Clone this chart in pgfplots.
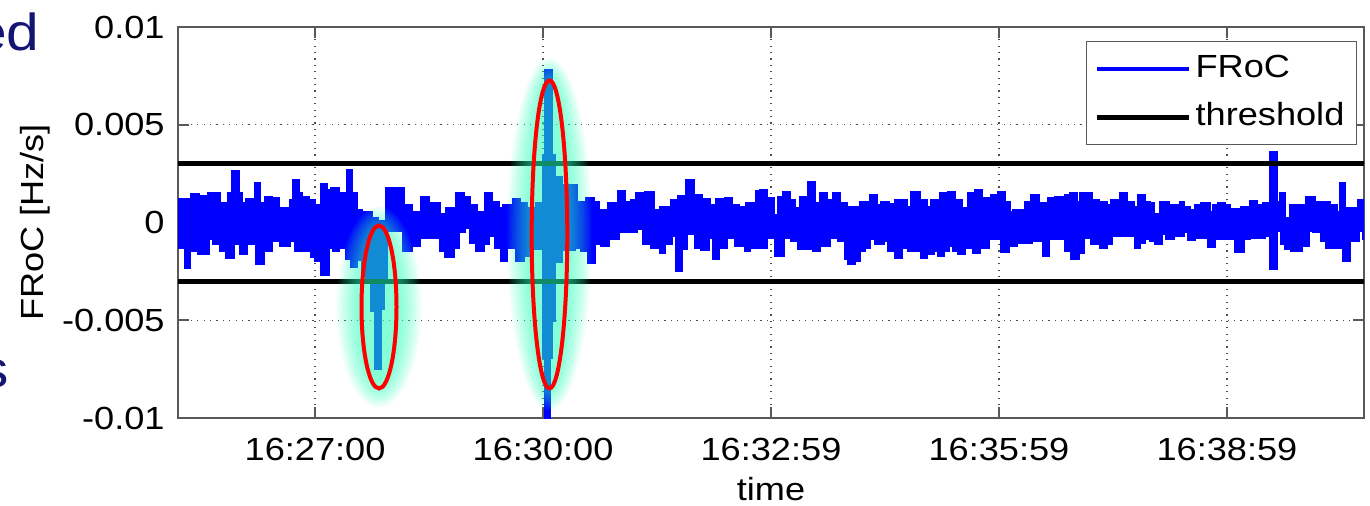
\documentclass[border=0pt]{standalone}
\usepackage{fontspec}
\setmainfont{Liberation Sans}[FakeStretch=1.13]
\usepackage{pgfplots}
\usepgfplotslibrary{fillbetween}
\pgfplotsset{compat=1.18}
\usepackage{pgfplotstable}
\definecolor{froc}{rgb}{0,0,1}
\definecolor{glowc}{rgb}{0.15,1,0.72}
\definecolor{slidetext}{rgb}{0.08,0.08,0.45}
\definecolor{axgray}{gray}{0.35}

\pgfplotstableread{
t v
-108.2 1.16e-3
-97.3 1.43e-3
-92.1 1.33e-3
-86.8 0.96e-3
-84.2 1.50e-3
-75.0 0.96e-3
-68.5 1.47e-3
-65.3 2.61e-3
-60.6 1.47e-3
-57.9 0.96e-3
-53.9 1.16e-3
-48.7 0.87e-3
-47.4 1.98e-3
-43.4 0.96e-3
-38.9 1.30e-3
-34.2 1.21e-3
-29.0 0.70e-3
-19.7 1.13e-3
-17.1 2.15e-3
-12.6 1.47e-3
-10.5 1.30e-3
-5.3 1.13e-3
0 0.87e-3
5.3 1.93e-3
9.2 1.64e-3
13.2 1.72e-3
18.4 1.13e-3
21.1 1.47e-3
25.8 2.66e-3
29.0 1.47e-3
32.9 0.61e-3
36.9 0.53e-3
45.0 0.20e-3
49.7 0.05e-3
56.6 1.72e-3
69.7 0.87e-3
76.3 0.53e-3
84.2 1.30e-3
89.5 0.96e-3
98.7 0.44e-3
104.0 0.70e-3
111.9 1.50e-3
117.1 1.30e-3
122.4 0.87e-3
127.7 0.53e-3
134.2 1.50e-3
139.5 1.04e-3
144.7 0.70e-3
148.7 0.87e-3
156.6 1.16e-3
161.8 0.96e-3
167.1 0.70e-3
175.0 0.96e-3
180.0 3.43e-3
181.6 7.77e-3
186.9 3.43e-3
189.5 2.32e-3
194.8 1.89e-3
206.6 1.04e-3
214.5 1.21e-3
219.7 1.04e-3
223.7 0.61e-3
231.6 0.99e-3
239.5 1.60e-3
244.7 1.04e-3
250.0 1.13e-3
253.9 1.47e-3
260.5 1.55e-3
267.1 0.61e-3
272.4 0.78e-3
281.6 1.13e-3
286.8 1.33e-3
293.4 2.15e-3
298.7 1.38e-3
305.3 1.16e-3
311.8 0.87e-3
317.1 1.16e-3
323.7 1.21e-3
329.0 0.87e-3
334.2 0.78e-3
340.8 0.96e-3
348.7 1.60e-3
351.3 1.64e-3
356.6 1.21e-3
361.8 0.36e-3
365.8 1.30e-3
369.7 1.55e-3
375.0 1.13e-3
378.9 0.70e-3
382.9 1.30e-3
389.5 2.03e-3
394.7 0.96e-3
398.7 1.47e-3
404.0 1.13e-3
409.2 1.47e-3
414.5 0.99e-3
419.8 0.78e-3
430.3 1.04e-3
438.2 1.38e-3
443.4 0.87e-3
447.4 1.04e-3
452.6 0.92e-3
457.9 1.13e-3
467.1 0.78e-3
471.1 1.55e-3
477.6 1.13e-3
482.9 0.78e-3
486.9 1.13e-3
493.4 1.47e-3
500.0 1.55e-3
505.3 1.13e-3
510.5 0.70e-3
515.8 1.47e-3
521.1 1.64e-3
526.3 1.21e-3
531.6 0.87e-3
534.2 1.38e-3
539.5 1.55e-3
544.7 1.04e-3
548.7 0.53e-3
551.3 0.61e-3
560.5 1.04e-3
565.8 1.38e-3
571.0 0.96e-3
578.9 1.21e-3
584.2 1.30e-3
592.1 1.38e-3
596.1 1.47e-3
601.3 1.04e-3
604.0 1.47e-3
613.2 1.13e-3
618.4 1.04e-3
625.0 0.87e-3
629.0 1.13e-3
635.5 1.50e-3
640.8 1.04e-3
646.1 0.78e-3
650.0 1.38e-3
655.3 1.04e-3
659.2 0.96e-3
661.9 0.44e-3
667.1 1.04e-3
673.7 0.87e-3
682.9 1.04e-3
685.5 0.78e-3
690.8 0.61e-3
694.7 0.87e-3
700.0 0.96e-3
706.6 0.53e-3
709.2 0.87e-3
713.2 0.99e-3
718.4 0.87e-3
722.4 0.65e-3
729.0 0.44e-3
731.6 0.78e-3
738.2 1.09e-3
743.4 0.87e-3
748.7 0.96e-3
754.0 3.60e-3
759.3 1.04e-3
761.9 1.50e-3
765.8 0.19e-3
769.8 0.87e-3
782.9 1.30e-3
789.5 1.04e-3
801.3 0.87e-3
806.6 0.53e-3
809.2 1.98e-3
813.2 0.70e-3
823.7 1.13e-3
827.6 0.96e-3
828.2 0.96e-3
}\upperdata

\pgfplotstableread{
t v
-108.2 -1.26e-3
-102.6 -2.32e-3
-98.7 -1.43e-3
-92.1 -1.60e-3
-84.2 -0.83e-3
-80.3 -1.09e-3
-75.0 -1.43e-3
-69.7 -1.81e-3
-64.5 -1.09e-3
-59.2 -1.60e-3
-53.9 -1.09e-3
-46.0 -2.11e-3
-40.8 -1.43e-3
-34.2 -0.92e-3
-27.6 -1.18e-3
-19.7 -0.92e-3
-15.8 -1.43e-3
-2.6 -1.74e-3
0 -1.94e-3
5.3 -2.66e-3
10.5 -1.26e-3
14.4 -1.43e-3
18.4 -1.26e-3
25.0 -1.86e-3
29.0 -2.28e-3
32.9 -1.90e-3
37.1 -2.40e-3
40.8 -2.80e-3
44.8 -4.50e-3
47.4 -7.47e-3
51.9 -4.40e-3
53.9 -3.00e-3
56.6 -0.41e-3
69.7 -1.43e-3
76.3 -1.18e-3
82.9 -0.75e-3
98.7 -1.43e-3
102.6 -1.74e-3
109.2 -1.26e-3
113.2 -0.49e-3
118.4 -0.24e-3
122.4 -1.01e-3
127.7 -1.43e-3
132.9 -1.09e-3
136.8 -0.66e-3
142.1 -1.26e-3
147.4 -1.94e-3
151.3 -1.26e-3
159.2 -1.94e-3
164.5 -1.69e-3
169.7 -1.09e-3
172.4 -1.35e-3
180.2 -6.90e-3
181.6 -10.5e-3
185.5 -6.90e-3
186.9 -5.00e-3
189.5 -2.00e-3
194.8 -1.40e-3
205.3 -1.26e-3
210.6 -1.43e-3
215.8 -2.03e-3
221.1 -1.09e-3
226.3 -1.18e-3
231.6 -0.83e-3
239.5 -0.49e-3
253.9 -0.32e-3
259.2 -1.09e-3
265.8 -1.26e-3
272.4 -1.52e-3
276.3 -1.09e-3
281.6 -0.66e-3
285.6 -2.46e-3
289.5 -1.35e-3
293.4 -0.58e-3
300.0 -1.26e-3
305.3 -1.40e-3
310.5 -0.75e-3
314.5 -1.86e-3
318.4 -1.26e-3
325.0 -0.75e-3
331.6 -1.18e-3
339.5 -1.43e-3
343.4 -1.26e-3
350.0 -0.75e-3
351.3 -1.26e-3
356.6 -0.75e-3
363.2 -1.69e-3
369.7 -0.75e-3
376.3 -0.92e-3
381.6 -1.35e-3
393.4 -1.43e-3
398.7 -1.18e-3
406.6 -0.75e-3
413.1 -0.92e-3
418.4 -1.86e-3
421.0 -2.11e-3
426.3 -1.94e-3
430.3 -1.43e-3
434.2 -1.26e-3
438.2 -0.83e-3
442.1 -1.09e-3
448.7 -0.92e-3
452.6 -1.43e-3
457.9 -1.77e-3
463.2 -1.26e-3
468.4 -1.43e-3
478.9 -1.77e-3
482.9 -1.60e-3
488.1 -1.43e-3
492.1 -1.69e-3
496.0 -1.43e-3
500.0 -1.18e-3
503.9 -1.43e-3
507.9 -1.60e-3
513.2 -1.26e-3
519.7 -1.52e-3
525.0 -1.26e-3
531.6 -0.83e-3
542.1 -1.47e-3
547.4 -1.18e-3
554.0 -1.01e-3
565.8 -0.92e-3
575.0 -1.69e-3
578.9 -0.83e-3
592.1 -1.43e-3
597.4 -1.86e-3
602.6 -1.52e-3
606.6 -0.75e-3
613.2 -1.09e-3
619.7 -1.26e-3
625.0 -1.09e-3
629.0 -0.66e-3
647.4 -1.26e-3
651.3 -1.01e-3
655.3 -0.83e-3
659.2 -0.92e-3
663.2 -1.09e-3
668.4 -0.58e-3
672.4 -0.83e-3
677.6 -0.66e-3
685.5 -0.49e-3
689.5 -0.89e-3
694.7 -0.75e-3
705.3 -1.23e-3
710.5 -0.83e-3
726.3 -1.47e-3
732.9 -0.83e-3
738.2 -0.75e-3
750.0 -0.66e-3
754.0 -2.37e-3
759.3 -0.41e-3
763.2 -1.09e-3
765.8 -1.35e-3
771.1 -1.43e-3
779.0 -1.18e-3
784.2 -0.41e-3
788.2 -0.49e-3
794.8 -0.92e-3
798.7 -1.26e-3
811.9 -1.94e-3
817.1 -0.92e-3
823.7 -0.41e-3
827.6 -0.83e-3
828.2 -0.83e-3
}\lowerdata

\newcommand{\glowlayer}[5]{%
  \fill[glowc, opacity=0.08] (axis cs:#1,#2) ellipse[x radius=#3pt-#5pt, y radius=#4pt-#5pt];}
\newcommand{\glow}[4]{%
  \glowlayer{#1}{#2}{#3}{#4}{0}\glowlayer{#1}{#2}{#3}{#4}{1.2}%
  \glowlayer{#1}{#2}{#3}{#4}{2.4}\glowlayer{#1}{#2}{#3}{#4}{3.6}%
  \glowlayer{#1}{#2}{#3}{#4}{4.8}\glowlayer{#1}{#2}{#3}{#4}{6}%
  \glowlayer{#1}{#2}{#3}{#4}{7.2}\glowlayer{#1}{#2}{#3}{#4}{8.4}%
  \glowlayer{#1}{#2}{#3}{#4}{9.6}\glowlayer{#1}{#2}{#3}{#4}{10.8}%
}

\begin{document}
\begin{tikzpicture}
\begin{axis}[
  at={(89pt,43.5pt)}, anchor=south west,
  width=593pt, height=195.5pt, scale only axis,
  xmin=-108.2, xmax=828.2, ymin=-0.01, ymax=0.01,
  xtick={0,180,360,540,720},
  xticklabels={16:27:00,16:30:00,16:32:59,16:35:59,16:38:59},
  ytick={-0.01,-0.005,0,0.005,0.01},
  yticklabels={-0.01,-0.005,0,0.005,0.01},
  scaled y ticks=false,
  tick align=inside, xtick pos=both, ytick pos=both,
  major tick length=5.5pt,
  grid=major,
  major grid style={black!70, line width=0.6pt, dash pattern=on 0.6pt off 2.6pt},
  axis line style={axgray, line width=0.8pt},
  tick style={axgray, line width=0.8pt},
  every tick label/.append style={font=\fontsize{16}{19}\selectfont, text=black},
  xticklabel style={anchor=north, inner sep=0pt, yshift=-10pt},
  yticklabel style={anchor=east, inner sep=0pt, xshift=-6.5pt},
  xlabel={time}, ylabel={FRoC [Hz/s]},
  label style={font=\fontsize{16}{19}\selectfont},
  xlabel style={at={(axis description cs:0.5,-0.2097)}, anchor=base},
  ylabel style={at={(axis description cs:-0.1206,0.5)}, anchor=center},
  legend style={at={(1,1)}, anchor=north east, xshift=-3.5pt, yshift=-7pt,
    draw=axgray, line width=0.6pt, fill=white,
    font=\fontsize{16}{19}\selectfont, inner xsep=4pt, inner ysep=4.5pt,
    row sep=5.5pt, nodes={inner sep=2pt, text height=11.5pt, text depth=3pt},
    cells={anchor=west}},
  legend image code/.code={\path (-2pt,0pt) -- (44pt,0pt);\draw[#1, line cap=butt] (0pt,0pt) -- (40pt,0pt);},
  no markers,
]
\addplot[name path=up, const plot, draw=froc, line width=1.4pt, forget plot] table[x=t,y=v]{\upperdata};
\addplot[name path=lo, const plot, draw=froc, line width=1.4pt, forget plot] table[x=t,y=v]{\lowerdata};
\addplot[froc, forget plot] fill between[of=up and lo];
\addlegendimage{froc, line width=1.8pt}
\addlegendentry{FRoC}
\addplot[black, line width=2.5pt] coordinates {(-108.2,0.003) (828.2,0.003)};
\addlegendentry{threshold}
\addplot[black, line width=2.5pt, forget plot] coordinates {(-108.2,-0.003) (828.2,-0.003)};
\glow{50.5}{-0.00432}{21}{50}
\glow{185.1}{-0.00061}{21}{88}
\draw[red, line width=2pt] (axis cs:50.5,-0.00432) ellipse[x radius=8.75pt, y radius=40.75pt];
\draw[red, line width=2pt] (axis cs:185.1,-0.00061) ellipse[x radius=8.9pt, y radius=77pt];
\end{axis}
\node[anchor=base east, inner sep=0pt, text=slidetext, font=\fontsize{26}{30}\selectfont] at (20pt,227.5pt) {ed};
\node[anchor=base east, inner sep=0pt, text=slidetext, font=\fontsize{26}{30}\selectfont] at (4.5pt,59pt) {s};
\pgfresetboundingbox
\useasboundingbox (0,0) rectangle (685pt,252.5pt);
\end{tikzpicture}
\end{document}
